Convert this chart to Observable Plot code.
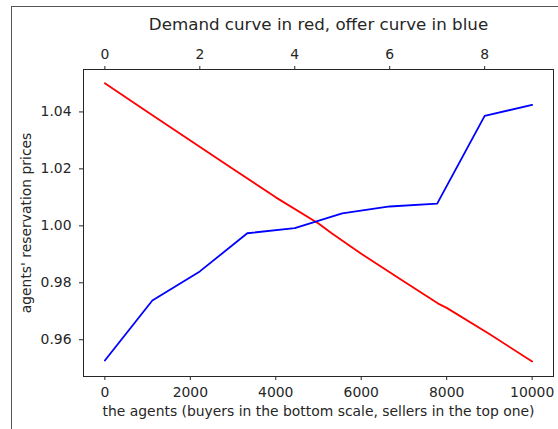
<!DOCTYPE html>
<html><head><meta charset="utf-8">
<script src="https://cdn.jsdelivr.net/npm/d3@7"></script>
<script src="https://cdn.jsdelivr.net/npm/@observablehq/plot@0.6"></script>
<style>
body{margin:0;background:#fff;}
#wrap{position:relative;width:558px;height:429px;overflow:hidden;}
#border{position:absolute;left:11px;top:6px;right:-4px;bottom:-4px;border-top:1px solid #555;border-left:1px solid #555;pointer-events:none;}
svg{display:block;}
</style></head><body><div id="wrap"></div>
<script>
// Demand curve (buyers, bottom scale)
const buyers = [0, 1000, 2000, 3000, 4000, 5000, 5300, 6000, 7000, 7800, 8000, 9000, 10000];
const demand = [1.0501, 1.0400, 1.0300, 1.0200, 1.0100, 1.0008, 0.9975, 0.9902, 0.9805, 0.9727, 0.9712, 0.9620, 0.9524];
// Offer curve (sellers, top scale)
const sellers = [0, 1, 2, 3, 4, 5, 6, 7, 8, 9];
const offer = [0.9527, 0.9738, 0.9840, 0.9974, 0.9992, 1.0044, 1.0068, 1.0078, 1.0386, 1.0425];
// Ticks
const bottomTicks = [0, 2000, 4000, 6000, 8000, 10000];
const topTicks = [0, 2, 4, 6, 8];
const yTicks = [0.96, 0.98, 1.00, 1.02, 1.04];
const title = "Demand curve in red, offer curve in blue";
const xLabel = "the agents (buyers in the bottom scale, sellers in the top one)";
const yLabel = "agents' reservation prices";

const nBuyers = 10000, nSellersMax = 9;
const demandData = buyers.map((b, i) => ({x: b, y: demand[i]}));
const offerData = sellers.map((s, i) => ({x: s * nBuyers / nSellersMax, y: offer[i]}));

const chart = Plot.plot({
  width: 558, height: 429,
  marginLeft: 83, marginRight: 5, marginTop: 69, marginBottom: 53,
  style: {fontFamily: "DejaVu Sans", fontSize: "13.9px", color: "#262626", background: "#fff"},
  x: {domain: [-500, 10500]},
  y: {domain: [0.9471, 1.0549]},
  marks: [
    Plot.frame({stroke: "#262626"}),
    Plot.axisX({anchor: "bottom", ticks: bottomTicks, tickFormat: d3.format("d"), tickSize: 4, tickPadding: 7,
      label: xLabel, labelAnchor: "center", labelOffset: 39, labelArrow: "none"}),
    Plot.axisX({anchor: "top", ticks: topTicks.map(t => t * nBuyers / nSellersMax),
      tickFormat: d => String(Math.round(d * nSellersMax / nBuyers)), tickSize: 4, tickPadding: 7, label: null}),
    Plot.axisY({ticks: yTicks, tickFormat: d3.format(".2f"), tickSize: 4, tickPadding: 8,
      label: yLabel, labelAnchor: "center", labelOffset: 62, labelArrow: "none"}),
    Plot.line(demandData, {x: "x", y: "y", stroke: "#ff0000", strokeWidth: 1.8}),
    Plot.line(offerData, {x: "x", y: "y", stroke: "#0000ff", strokeWidth: 1.8}),
    Plot.text([title], {text: d => d, frameAnchor: "top", dy: -45, fontSize: 16.7, lineAnchor: "middle", fill: "#262626"})
  ]
});
const wrap = document.getElementById("wrap");
wrap.appendChild(chart);
const border = document.createElement("div");
border.id = "border";
wrap.appendChild(border);
</script>
</body></html>
